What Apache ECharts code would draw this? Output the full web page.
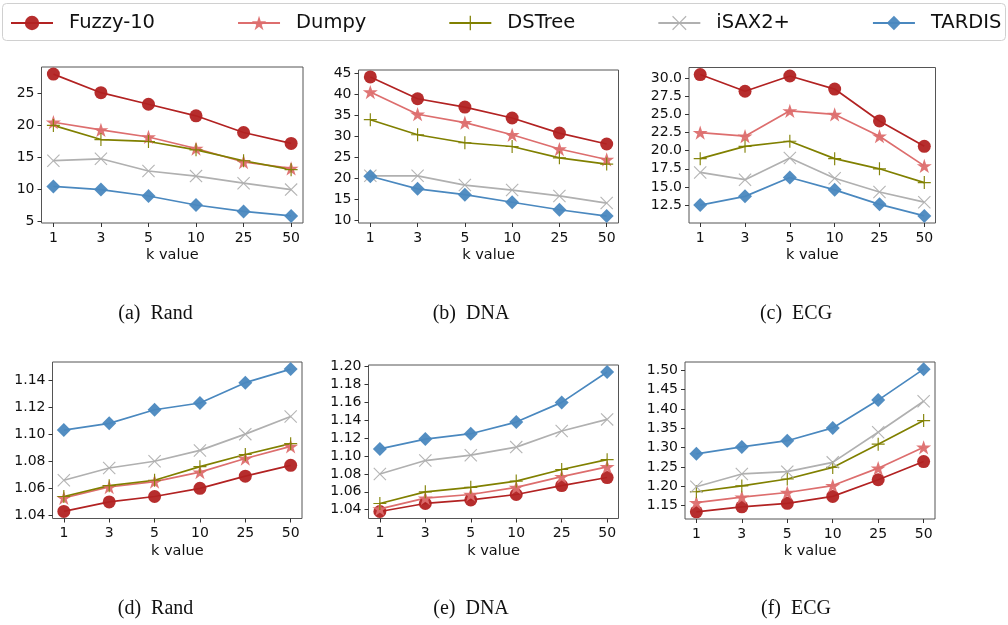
<!DOCTYPE html>
<html>
<head>
<meta charset="utf-8">
<script src="https://cdn.jsdelivr.net/npm/echarts@6/dist/echarts.min.js"></script>
<style>
  html, body { margin: 0; padding: 0; background: #fff; }
  #main { width: 1008px; height: 625px; }
</style>
</head>
<body>
<div id="main"></div>
<script>
// x categories (k value)
var kLabels = ['1', '3', '5', '10', '25', '50'];
var methods = ['Fuzzy-10', 'Dumpy', 'DSTree', 'iSAX2+', 'TARDIS'];

// (a) Rand
var fuzzyA = [28.0, 25.1, 23.3, 21.5, 18.9, 17.2];
var dumpyA = [20.5, 19.3, 18.2, 16.4, 14.3, 13.3];
var dstreeA = [20.0, 17.8, 17.5, 16.2, 14.5, 13.1];
var isaxA = [14.5, 14.8, 12.9, 12.1, 11.0, 10.0];
var tardisA = [10.5, 10.0, 9.0, 7.6, 6.6, 5.9];
var ticksA = [5, 10, 15, 20, 25];

// (b) DNA
var fuzzyB = [44.2, 39.0, 37.0, 34.4, 30.8, 28.2];
var dumpyB = [40.6, 35.3, 33.3, 30.4, 27.0, 24.5];
var dstreeB = [34.0, 30.4, 28.5, 27.6, 24.9, 23.4];
var isaxB = [20.6, 20.6, 18.4, 17.2, 15.8, 14.1];
var tardisB = [20.5, 17.5, 16.1, 14.3, 12.5, 11.0];
var ticksB = [10, 15, 20, 25, 30, 35, 40, 45];

// (c) ECG
var fuzzyC = [30.5, 28.2, 30.3, 28.5, 24.1, 20.6];
var dumpyC = [22.5, 22.0, 25.5, 25.0, 22.0, 17.9];
var dstreeC = [18.9, 20.6, 21.3, 18.9, 17.5, 15.6];
var isaxC = [17.0, 16.0, 19.0, 16.2, 14.3, 12.9];
var tardisC = [12.5, 13.7, 16.3, 14.6, 12.6, 11.0];
var ticksC = [10, 12.5, 15, 17.5, 20, 22.5, 25, 27.5, 30];

// (d) Rand
var fuzzyD = [1.043, 1.050, 1.054, 1.060, 1.069, 1.077];
var dumpyD = [1.053, 1.061, 1.065, 1.072, 1.082, 1.091];
var dstreeD = [1.054, 1.062, 1.066, 1.076, 1.085, 1.093];
var isaxD = [1.066, 1.075, 1.080, 1.088, 1.100, 1.113];
var tardisD = [1.103, 1.108, 1.118, 1.123, 1.138, 1.148];
var ticksD = [1.04, 1.06, 1.08, 1.10, 1.12, 1.14];

// (e) DNA
var fuzzyE = [1.038, 1.047, 1.051, 1.057, 1.067, 1.076];
var dumpyE = [1.041, 1.053, 1.057, 1.065, 1.077, 1.088];
var dstreeE = [1.047, 1.060, 1.065, 1.072, 1.085, 1.096];
var isaxE = [1.080, 1.095, 1.101, 1.110, 1.128, 1.141];
var tardisE = [1.108, 1.119, 1.125, 1.138, 1.160, 1.194];
var ticksE = [1.04, 1.06, 1.08, 1.10, 1.12, 1.14, 1.16, 1.18, 1.20];

// (f) ECG
var fuzzyF = [1.134, 1.147, 1.156, 1.174, 1.217, 1.264];
var dumpyF = [1.158, 1.172, 1.184, 1.202, 1.247, 1.301];
var dstreeF = [1.186, 1.201, 1.219, 1.249, 1.309, 1.370];
var isaxF = [1.199, 1.232, 1.238, 1.262, 1.340, 1.420];
var tardisF = [1.284, 1.302, 1.318, 1.351, 1.423, 1.503];
var ticksF = [1.15, 1.20, 1.25, 1.30, 1.35, 1.40, 1.45, 1.50];

var captions = ['(a)  Rand', '(b)  DNA', '(c)  ECG', '(d)  Rand', '(e)  DNA', '(f)  ECG'];

var STAR = 'path://M0,-10 L2.25,-3.09 L9.51,-3.09 L3.63,1.18 L5.88,8.09 L0,3.82 L-5.88,8.09 L-3.63,1.18 L-9.51,-3.09 L-2.25,-3.09 Z';
var PLUS = 'path://M-0.9,-10 H0.9 V-0.9 H10 V0.9 H0.9 V10 H-0.9 V0.9 H-10 V-0.9 H-0.9 Z';
var CROSS = 'path://M-10,-8.8 L-8.8,-10 L0,-1.2 L8.8,-10 L10,-8.8 L1.2,0 L10,8.8 L8.8,10 L0,1.2 L-8.8,10 L-10,8.8 L-1.2,0 Z';

var styles = [
    { color: '#b22222', symbol: 'circle', size: 13 },
    { color: '#dd6e6e', symbol: STAR, size: 15 },
    { color: '#808000', symbol: PLUS, size: 13 },
    { color: '#b0b0b0', symbol: CROSS, size: 13 },
    { color: '#4a88bf', symbol: 'diamond', size: 14 }
];

var panels = [
    { data: [fuzzyA, dumpyA, dstreeA, isaxA, tardisA], ticks: ticksA, dec: 0, grid: [41.5, 67, 261.5, 156], cap: [155.5, 314] },
    { data: [fuzzyB, dumpyB, dstreeB, isaxB, tardisB], ticks: ticksB, dec: 0, grid: [358.5, 70, 260, 153], cap: [471, 314] },
    { data: [fuzzyC, dumpyC, dstreeC, isaxC, tardisC], ticks: ticksC, dec: 1, grid: [689, 67.5, 246.5, 155.5], cap: [796, 314] },
    { data: [fuzzyD, dumpyD, dstreeD, isaxD, tardisD], ticks: ticksD, dec: 2, grid: [52.5, 362, 249.5, 156.5], cap: [155.5, 609] },
    { data: [fuzzyE, dumpyE, dstreeE, isaxE, tardisE], ticks: ticksE, dec: 2, grid: [368.5, 365, 250, 153.5], cap: [471, 609] },
    { data: [fuzzyF, dumpyF, dstreeF, isaxF, tardisF], ticks: ticksF, dec: 2, grid: [685, 362, 250, 157], cap: [796, 609] }
];

var FONT = 'DejaVu Sans';
var grids = [], xAxes = [], yAxes = [], series = [], graphics = [];
var xIdx = [0, 1, 2, 3, 4, 5];

panels.forEach(function (p, i) {
    var all = [].concat.apply([], p.data);
    var lo = Math.min.apply(null, all), hi = Math.max.apply(null, all);
    var pad = (hi - lo) * 0.05;
    grids.push({
        left: p.grid[0], top: p.grid[1], width: p.grid[2], height: p.grid[3],
        show: true, borderColor: '#555', borderWidth: 1
    });
    xAxes.push({
        type: 'value', gridIndex: i, min: -0.25, max: 5.25,
        axisLine: { show: false, onZero: false },
        splitLine: { show: false },
        axisTick: { show: true, customValues: xIdx, length: 4, lineStyle: { color: '#333' } },
        axisLabel: {
            customValues: xIdx, margin: 8, fontFamily: FONT, fontSize: 14, color: '#111',
            formatter: function (v) { return kLabels[Math.round(v)]; }
        },
        name: 'k value', nameLocation: 'middle', nameGap: 25,
        nameTextStyle: { fontFamily: FONT, fontSize: 14.5, color: '#111' }
    });
    yAxes.push({
        type: 'value', gridIndex: i, min: lo - pad, max: hi + pad,
        axisLine: { show: false, onZero: false },
        splitLine: { show: false },
        axisTick: { show: true, customValues: p.ticks, length: 4, lineStyle: { color: '#333' } },
        axisLabel: {
            customValues: p.ticks, margin: 7, fontFamily: FONT, fontSize: 14, color: '#111',
            formatter: (function (d) { return function (v) { return v.toFixed(d); }; })(p.dec)
        }
    });
    p.data.forEach(function (vals, m) {
        var s = styles[m];
        series.push({
            name: methods[m], type: 'line', xAxisIndex: i, yAxisIndex: i,
            data: vals.map(function (v, k) { return [xIdx[k], v]; }),
            symbol: s.symbol, symbolSize: s.size, symbolKeepAspect: true,
            showSymbol: true, animation: false,
            lineStyle: { color: s.color, width: 1.7 },
            itemStyle: { color: s.color, opacity: 0.95 },
            emphasis: { disabled: true }
        });
    });
    graphics.push({
        type: 'text', x: p.cap[0], y: p.cap[1],
        style: {
            text: captions[i], fontFamily: 'Liberation Serif', fontSize: 20, fill: '#111',
            align: 'center', verticalAlign: 'middle'
        }
    });
});

graphics.push({
    type: 'rect', shape: { x: 2.5, y: 3.5, width: 1003, height: 37, r: 4 },
    style: { fill: 'none', stroke: '#d0d0d0', lineWidth: 1 }, z: -1
});

var myChart = echarts.init(document.getElementById('main'), null, { renderer: 'canvas' });
var option = {
    animation: false,
    backgroundColor: '#fff',
    legend: {
        data: methods, left: 5, top: 8, width: 1000, itemGap: 82, itemWidth: 42, itemHeight: 18,
        selectedMode: false,
        textStyle: { fontFamily: FONT, fontSize: 19.5, color: '#111', padding: [0, 0, 0, 11] }
    },
    grid: grids,
    xAxis: xAxes,
    yAxis: yAxes,
    series: series,
    graphic: graphics
};
myChart.setOption(option);
</script>
</body>
</html>
